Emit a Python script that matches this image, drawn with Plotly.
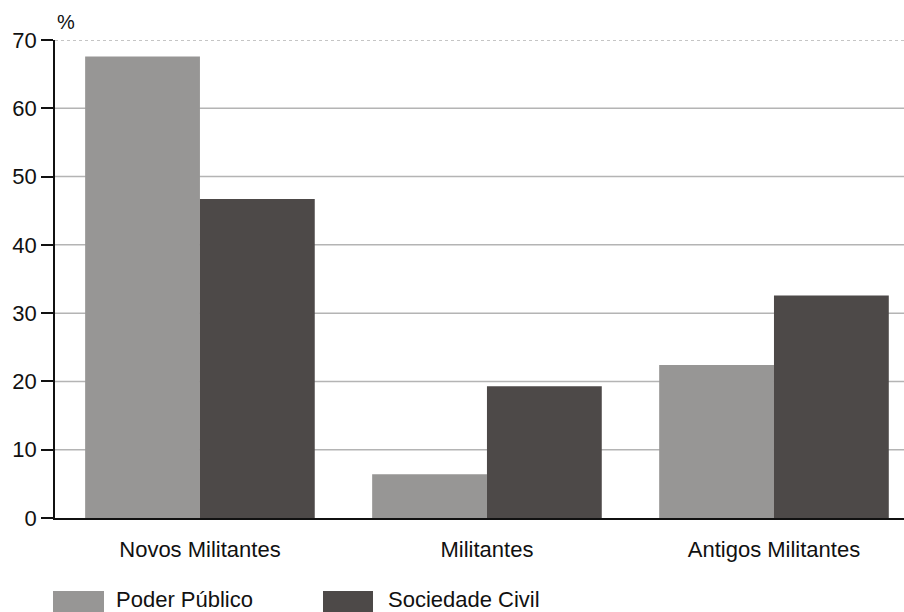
import plotly.graph_objects as go

# Participação por tipo de militância (%)
categories = ["Novos Militantes", "Militantes", "Antigos Militantes"]
series_names = ["Poder Público", "Sociedade Civil"]
poder_publico = [67.6, 6.4, 22.4]
sociedade_civil = [46.7, 19.3, 32.6]
y_ticks = [0, 10, 20, 30, 40, 50, 60, 70]

colors = ["#979695", "#4d4948"]
font_family = "Liberation Sans, Arial, sans-serif"

fig = go.Figure()
for name, vals, col in zip(series_names, [poder_publico, sociedade_civil], colors):
    fig.add_trace(go.Bar(x=categories, y=vals, name=name,
                         marker=dict(color=col, line=dict(width=0))))

# horizontal grid lines behind the bars; top one dotted
shapes = []
for t in y_ticks[1:-1]:
    shapes.append(dict(type="line", xref="paper", yref="y", x0=0, x1=1, y0=t, y1=t,
                       line=dict(color="#b4b4b4", width=1.5), layer="below"))
shapes.append(dict(type="line", xref="paper", yref="y", x0=0, x1=1,
                   y0=y_ticks[-1], y1=y_ticks[-1],
                   line=dict(color="#8c8c8c", width=1.2, dash="dot"), layer="below"))

# legend swatches drawn below the plot
plot_w = 849.0
plot_h = 478.0
def px_x(p):
    return (p - 55) / plot_w
def px_y(p):
    return (518 - p) / plot_h

legend_x = [(53, 104, 114), (323, 373, 386)]
annotations = []
for (x0, x1, tx), name, col in zip(legend_x, series_names, colors):
    shapes.append(dict(type="rect", xref="paper", yref="paper",
                       x0=px_x(x0), x1=px_x(x1), y0=px_y(591), y1=px_y(614),
                       fillcolor=col, line=dict(width=0)))
    annotations.append(dict(xref="paper", yref="paper", x=px_x(tx), y=px_y(599),
                            text=name, showarrow=False, xanchor="left", yanchor="middle",
                            font=dict(size=22, color="#111111", family=font_family)))

annotations.append(dict(xref="paper", yref="paper", x=px_x(55), y=px_y(35),
                        text="%", showarrow=False, xanchor="left", yanchor="bottom",
                        font=dict(size=20, color="#111111", family=font_family)))

fig.update_layout(
    width=904, height=612,
    margin=dict(l=55, r=0, t=40, b=94),
    paper_bgcolor="white", plot_bgcolor="white",
    barmode="group", bargap=0.2, bargroupgap=0,
    showlegend=False,
    shapes=shapes, annotations=annotations,
    font=dict(family=font_family, color="#111111"),
    xaxis=dict(range=[-0.505, 2.453], showline=True, linecolor="#111111", linewidth=1.5,
               showgrid=False, ticks="outside", ticklen=11, tickcolor="rgba(0,0,0,0)",
               tickfont=dict(size=22, family=font_family, color="#111111")),
    yaxis=dict(range=[0, 70], tickvals=y_ticks, showline=True, linecolor="#111111",
               linewidth=1.5, showgrid=False, zeroline=False, ticks="outside", ticklen=12,
               tickcolor="#111111", tickwidth=1.5,
               tickfont=dict(size=22, family=font_family, color="#111111")),
)

fig.write_html("out.html")
